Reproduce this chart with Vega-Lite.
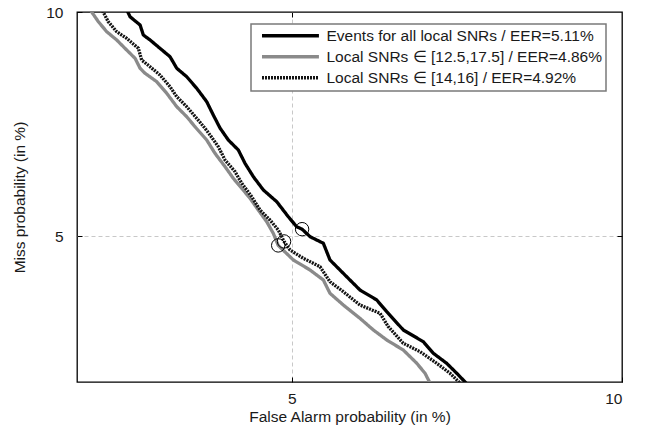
{
  "$schema": "https://vega.github.io/schema/vega-lite/v6.json",
  "width": 545,
  "height": 370,
  "autosize": {"type": "none"},
  "padding": {"left": 77, "top": 12, "right": 26, "bottom": 47},
  "background": "white",
  "config": {
    "font": "Liberation Sans",
    "view": {"stroke": "black", "strokeWidth": 1.3},
    "axis": {
      "labelFont": "Liberation Sans",
      "labelFontSize": 15.5,
      "labelColor": "#1a1a1a",
      "titleFont": "Liberation Sans",
      "titleFontSize": 15.5,
      "titleFontWeight": "normal",
      "titleColor": "#1a1a1a",
      "domain": false,
      "tickColor": "black",
      "tickWidth": 1,
      "tickSize": -5,
      "gridColor": "#c8c8c8",
      "gridDash": [4, 3],
      "gridWidth": 1
    },
    "legend": {
      "orient": "none",
      "legendX": 174,
      "legendY": 12,
      "title": null,
      "symbolType": "M-1,0H11",
      "symbolSize": 90,
      "symbolOffset": 4,
      "labelFont": "Liberation Sans",
      "labelFontSize": 15.5,
      "labelColor": "#1a1a1a",
      "labelOffset": 52,
      "labelLimit": 400,
      "padding": 4,
      "rowPadding": 4,
      "strokeColor": "#7a7a7a",
      "strokeWidth": 1.5,
      "fillColor": "white"
    }
  },
  "datasets": {
    "curves": [
      {"s": "Events for all local SNRs / EER=5.11%", "fa": 3.531, "miss": 10.124},
      {"s": "Events for all local SNRs / EER=5.11%", "fa": 3.561, "miss": 9.856},
      {"s": "Events for all local SNRs / EER=5.11%", "fa": 3.637, "miss": 9.606},
      {"s": "Events for all local SNRs / EER=5.11%", "fa": 3.662, "miss": 9.314},
      {"s": "Events for all local SNRs / EER=5.11%", "fa": 3.714, "miss": 9.171},
      {"s": "Events for all local SNRs / EER=5.11%", "fa": 3.792, "miss": 8.938},
      {"s": "Events for all local SNRs / EER=5.11%", "fa": 3.873, "miss": 8.709},
      {"s": "Events for all local SNRs / EER=5.11%", "fa": 3.928, "miss": 8.403},
      {"s": "Events for all local SNRs / EER=5.11%", "fa": 4.011, "miss": 8.187},
      {"s": "Events for all local SNRs / EER=5.11%", "fa": 4.096, "miss": 7.899},
      {"s": "Events for all local SNRs / EER=5.11%", "fa": 4.183, "miss": 7.578},
      {"s": "Events for all local SNRs / EER=5.11%", "fa": 4.241, "miss": 7.273},
      {"s": "Events for all local SNRs / EER=5.11%", "fa": 4.301, "miss": 6.987},
      {"s": "Events for all local SNRs / EER=5.11%", "fa": 4.377, "miss": 6.732},
      {"s": "Events for all local SNRs / EER=5.11%", "fa": 4.470, "miss": 6.527},
      {"s": "Events for all local SNRs / EER=5.11%", "fa": 4.533, "miss": 6.264},
      {"s": "Events for all local SNRs / EER=5.11%", "fa": 4.613, "miss": 6.010},
      {"s": "Events for all local SNRs / EER=5.11%", "fa": 4.711, "miss": 5.768},
      {"s": "Events for all local SNRs / EER=5.11%", "fa": 4.845, "miss": 5.563},
      {"s": "Events for all local SNRs / EER=5.11%", "fa": 4.964, "miss": 5.311},
      {"s": "Events for all local SNRs / EER=5.11%", "fa": 5.052, "miss": 5.149},
      {"s": "Events for all local SNRs / EER=5.11%", "fa": 5.110, "miss": 5.110},
      {"s": "Events for all local SNRs / EER=5.11%", "fa": 5.196, "miss": 4.993},
      {"s": "Events for all local SNRs / EER=5.11%", "fa": 5.343, "miss": 4.892},
      {"s": "Events for all local SNRs / EER=5.11%", "fa": 5.418, "miss": 4.646},
      {"s": "Events for all local SNRs / EER=5.11%", "fa": 5.533, "miss": 4.504},
      {"s": "Events for all local SNRs / EER=5.11%", "fa": 5.650, "miss": 4.367},
      {"s": "Events for all local SNRs / EER=5.11%", "fa": 5.770, "miss": 4.234},
      {"s": "Events for all local SNRs / EER=5.11%", "fa": 5.976, "miss": 4.106},
      {"s": "Events for all local SNRs / EER=5.11%", "fa": 6.103, "miss": 3.960},
      {"s": "Events for all local SNRs / EER=5.11%", "fa": 6.319, "miss": 3.742},
      {"s": "Events for all local SNRs / EER=5.11%", "fa": 6.590, "miss": 3.609},
      {"s": "Events for all local SNRs / EER=5.11%", "fa": 6.730, "miss": 3.482},
      {"s": "Events for all local SNRs / EER=5.11%", "fa": 6.921, "miss": 3.376},
      {"s": "Events for all local SNRs / EER=5.11%", "fa": 7.069, "miss": 3.273},
      {"s": "Events for all local SNRs / EER=5.11%", "fa": 7.238, "miss": 3.157},
      {"s": "Local SNRs ∈ [12.5,17.5] / EER=4.86%", "fa": 3.267, "miss": 10.124},
      {"s": "Local SNRs ∈ [12.5,17.5] / EER=4.86%", "fa": 3.332, "miss": 9.705},
      {"s": "Local SNRs ∈ [12.5,17.5] / EER=4.86%", "fa": 3.391, "miss": 9.409},
      {"s": "Local SNRs ∈ [12.5,17.5] / EER=4.86%", "fa": 3.463, "miss": 9.171},
      {"s": "Local SNRs ∈ [12.5,17.5] / EER=4.86%", "fa": 3.536, "miss": 8.892},
      {"s": "Local SNRs ∈ [12.5,17.5] / EER=4.86%", "fa": 3.599, "miss": 8.666},
      {"s": "Local SNRs ∈ [12.5,17.5] / EER=4.86%", "fa": 3.637, "miss": 8.403},
      {"s": "Local SNRs ∈ [12.5,17.5] / EER=4.86%", "fa": 3.675, "miss": 8.274},
      {"s": "Local SNRs ∈ [12.5,17.5] / EER=4.86%", "fa": 3.766, "miss": 8.062},
      {"s": "Local SNRs ∈ [12.5,17.5] / EER=4.86%", "fa": 3.846, "miss": 7.778},
      {"s": "Local SNRs ∈ [12.5,17.5] / EER=4.86%", "fa": 3.928, "miss": 7.462},
      {"s": "Local SNRs ∈ [12.5,17.5] / EER=4.86%", "fa": 4.011, "miss": 7.235},
      {"s": "Local SNRs ∈ [12.5,17.5] / EER=4.86%", "fa": 4.081, "miss": 7.015},
      {"s": "Local SNRs ∈ [12.5,17.5] / EER=4.86%", "fa": 4.183, "miss": 6.732},
      {"s": "Local SNRs ∈ [12.5,17.5] / EER=4.86%", "fa": 4.256, "miss": 6.461},
      {"s": "Local SNRs ∈ [12.5,17.5] / EER=4.86%", "fa": 4.347, "miss": 6.199},
      {"s": "Local SNRs ∈ [12.5,17.5] / EER=4.86%", "fa": 4.423, "miss": 5.980},
      {"s": "Local SNRs ∈ [12.5,17.5] / EER=4.86%", "fa": 4.502, "miss": 5.798},
      {"s": "Local SNRs ∈ [12.5,17.5] / EER=4.86%", "fa": 4.581, "miss": 5.622},
      {"s": "Local SNRs ∈ [12.5,17.5] / EER=4.86%", "fa": 4.661, "miss": 5.422},
      {"s": "Local SNRs ∈ [12.5,17.5] / EER=4.86%", "fa": 4.744, "miss": 5.230},
      {"s": "Local SNRs ∈ [12.5,17.5] / EER=4.86%", "fa": 4.810, "miss": 5.046},
      {"s": "Local SNRs ∈ [12.5,17.5] / EER=4.86%", "fa": 4.860, "miss": 4.860},
      {"s": "Local SNRs ∈ [12.5,17.5] / EER=4.86%", "fa": 5.017, "miss": 4.646},
      {"s": "Local SNRs ∈ [12.5,17.5] / EER=4.86%", "fa": 5.196, "miss": 4.504},
      {"s": "Local SNRs ∈ [12.5,17.5] / EER=4.86%", "fa": 5.343, "miss": 4.367},
      {"s": "Local SNRs ∈ [12.5,17.5] / EER=4.86%", "fa": 5.418, "miss": 4.191},
      {"s": "Local SNRs ∈ [12.5,17.5] / EER=4.86%", "fa": 5.572, "miss": 4.042},
      {"s": "Local SNRs ∈ [12.5,17.5] / EER=4.86%", "fa": 5.770, "miss": 3.879},
      {"s": "Local SNRs ∈ [12.5,17.5] / EER=4.86%", "fa": 5.934, "miss": 3.742},
      {"s": "Local SNRs ∈ [12.5,17.5] / EER=4.86%", "fa": 6.103, "miss": 3.628},
      {"s": "Local SNRs ∈ [12.5,17.5] / EER=4.86%", "fa": 6.319, "miss": 3.517},
      {"s": "Local SNRs ∈ [12.5,17.5] / EER=4.86%", "fa": 6.500, "miss": 3.376},
      {"s": "Local SNRs ∈ [12.5,17.5] / EER=4.86%", "fa": 6.614, "miss": 3.273},
      {"s": "Local SNRs ∈ [12.5,17.5] / EER=4.86%", "fa": 6.698, "miss": 3.157},
      {"s": "Local SNRs ∈ [14,16] / EER=4.92%", "fa": 3.351, "miss": 10.124},
      {"s": "Local SNRs ∈ [14,16] / EER=4.92%", "fa": 3.402, "miss": 9.705},
      {"s": "Local SNRs ∈ [14,16] / EER=4.92%", "fa": 3.463, "miss": 9.409},
      {"s": "Local SNRs ∈ [14,16] / EER=4.92%", "fa": 3.536, "miss": 9.219},
      {"s": "Local SNRs ∈ [14,16] / EER=4.92%", "fa": 3.624, "miss": 8.938},
      {"s": "Local SNRs ∈ [14,16] / EER=4.92%", "fa": 3.649, "miss": 8.621},
      {"s": "Local SNRs ∈ [14,16] / EER=4.92%", "fa": 3.714, "miss": 8.444},
      {"s": "Local SNRs ∈ [14,16] / EER=4.92%", "fa": 3.792, "miss": 8.230},
      {"s": "Local SNRs ∈ [14,16] / EER=4.92%", "fa": 3.873, "miss": 7.938},
      {"s": "Local SNRs ∈ [14,16] / EER=4.92%", "fa": 3.928, "miss": 7.696},
      {"s": "Local SNRs ∈ [14,16] / EER=4.92%", "fa": 4.011, "miss": 7.462},
      {"s": "Local SNRs ∈ [14,16] / EER=4.92%", "fa": 4.096, "miss": 7.199},
      {"s": "Local SNRs ∈ [14,16] / EER=4.92%", "fa": 4.168, "miss": 6.980},
      {"s": "Local SNRs ∈ [14,16] / EER=4.92%", "fa": 4.212, "miss": 6.837},
      {"s": "Local SNRs ∈ [14,16] / EER=4.92%", "fa": 4.286, "miss": 6.594},
      {"s": "Local SNRs ∈ [14,16] / EER=4.92%", "fa": 4.347, "miss": 6.328},
      {"s": "Local SNRs ∈ [14,16] / EER=4.92%", "fa": 4.439, "miss": 6.104},
      {"s": "Local SNRs ∈ [14,16] / EER=4.92%", "fa": 4.502, "miss": 5.889},
      {"s": "Local SNRs ∈ [14,16] / EER=4.92%", "fa": 4.597, "miss": 5.650},
      {"s": "Local SNRs ∈ [14,16] / EER=4.92%", "fa": 4.678, "miss": 5.422},
      {"s": "Local SNRs ∈ [14,16] / EER=4.92%", "fa": 4.777, "miss": 5.257},
      {"s": "Local SNRs ∈ [14,16] / EER=4.92%", "fa": 4.861, "miss": 5.097},
      {"s": "Local SNRs ∈ [14,16] / EER=4.92%", "fa": 4.920, "miss": 4.920},
      {"s": "Local SNRs ∈ [14,16] / EER=4.92%", "fa": 4.982, "miss": 4.792},
      {"s": "Local SNRs ∈ [14,16] / EER=4.92%", "fa": 5.123, "miss": 4.670},
      {"s": "Local SNRs ∈ [14,16] / EER=4.92%", "fa": 5.306, "miss": 4.551},
      {"s": "Local SNRs ∈ [14,16] / EER=4.92%", "fa": 5.418, "miss": 4.344},
      {"s": "Local SNRs ∈ [14,16] / EER=4.92%", "fa": 5.572, "miss": 4.212},
      {"s": "Local SNRs ∈ [14,16] / EER=4.92%", "fa": 5.770, "miss": 4.042},
      {"s": "Local SNRs ∈ [14,16] / EER=4.92%", "fa": 6.018, "miss": 3.940},
      {"s": "Local SNRs ∈ [14,16] / EER=4.92%", "fa": 6.123, "miss": 3.780},
      {"s": "Local SNRs ∈ [14,16] / EER=4.92%", "fa": 6.319, "miss": 3.591},
      {"s": "Local SNRs ∈ [14,16] / EER=4.92%", "fa": 6.545, "miss": 3.499},
      {"s": "Local SNRs ∈ [14,16] / EER=4.92%", "fa": 6.778, "miss": 3.376},
      {"s": "Local SNRs ∈ [14,16] / EER=4.92%", "fa": 6.970, "miss": 3.273},
      {"s": "Local SNRs ∈ [14,16] / EER=4.92%", "fa": 7.148, "miss": 3.157}
    ],
    "eer": [
      {"fa": 5.11, "miss": 5.11},
      {"fa": 4.86, "miss": 4.86},
      {"fa": 4.92, "miss": 4.92}
    ]
  },
  "layer": [
    {
      "data": {"name": "curves"},
      "mark": {"type": "line", "clip": true, "strokeJoin": "round"},
      "encoding": {
        "x": {
          "field": "fa", "type": "quantitative",
          "scale": {"type": "log", "domain": [3.186, 10], "nice": false, "zero": false},
          "axis": {
            "values": [5, 10], "format": "d",
            "title": "False Alarm probability (in %)",
            "labelPadding": 14, "titlePadding": 3,
            "gridOpacity": {"condition": {"test": "datum.value >= 10", "value": 0}, "value": 1}
          }
        },
        "y": {
          "field": "miss", "type": "quantitative",
          "scale": {"type": "log", "domain": [3.186, 10], "nice": false, "zero": false},
          "axis": {
            "values": [5, 10], "format": "d",
            "title": "Miss probability (in %)",
            "labelPadding": 19, "titlePadding": 18,
            "gridOpacity": {"condition": {"test": "datum.value >= 10", "value": 0}, "value": 1}
          }
        },
        "color": {
          "field": "s", "type": "nominal",
          "scale": {
            "domain": ["Events for all local SNRs / EER=5.11%", "Local SNRs ∈ [12.5,17.5] / EER=4.86%", "Local SNRs ∈ [14,16] / EER=4.92%"],
            "range": ["#000000", "#8a8a8a", "#141414"]
          }
        },
        "strokeDash": {
          "field": "s", "type": "nominal",
          "scale": {
            "domain": ["Events for all local SNRs / EER=5.11%", "Local SNRs ∈ [12.5,17.5] / EER=4.86%", "Local SNRs ∈ [14,16] / EER=4.92%"],
            "range": [[1, 0], [1, 0], [2, 1]]
          }
        },
        "strokeWidth": {
          "field": "s", "type": "nominal",
          "scale": {
            "domain": ["Events for all local SNRs / EER=5.11%", "Local SNRs ∈ [12.5,17.5] / EER=4.86%", "Local SNRs ∈ [14,16] / EER=4.92%"],
            "range": [3.3, 3.3, 3]
          }
        }
      }
    },
    {
      "data": {"name": "eer"},
      "mark": {"type": "point", "shape": "circle", "size": 180, "filled": false, "stroke": "black", "strokeWidth": 1, "opacity": 1},
      "encoding": {
        "x": {
          "field": "fa", "type": "quantitative",
          "scale": {"type": "log", "domain": [3.186, 10], "nice": false, "zero": false},
          "axis": {"orient": "top", "values": [5], "labels": false, "title": null, "grid": false}
        },
        "y": {
          "field": "miss", "type": "quantitative",
          "scale": {"type": "log", "domain": [3.186, 10], "nice": false, "zero": false},
          "axis": {"orient": "right", "values": [5], "labels": false, "title": null, "grid": false}
        }
      }
    }
  ],
  "resolve": {"axis": {"x": "independent", "y": "independent"}}
}
